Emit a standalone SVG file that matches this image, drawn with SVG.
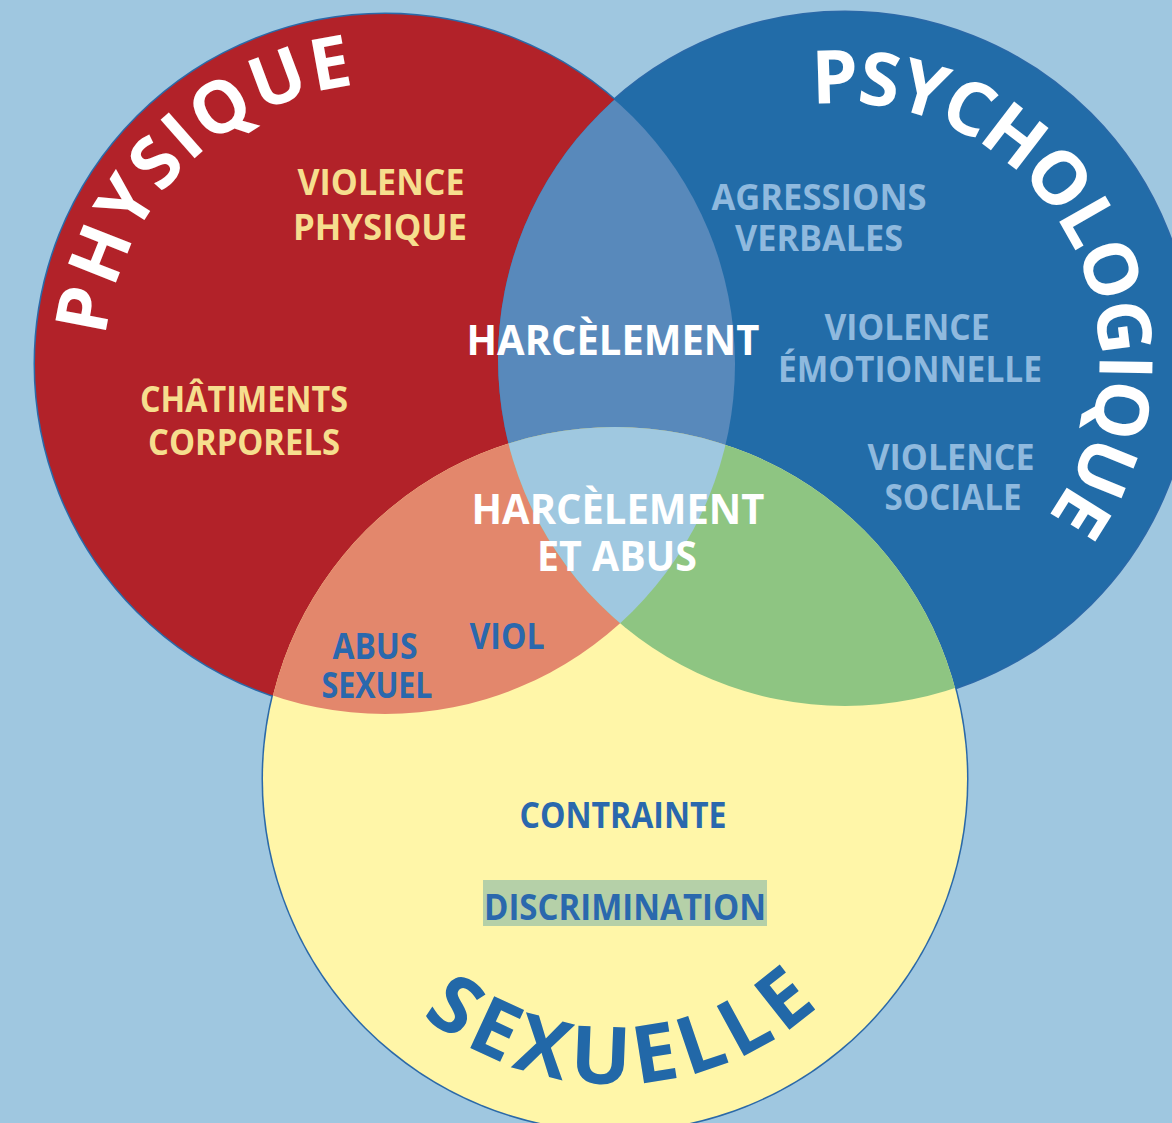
<svg xmlns="http://www.w3.org/2000/svg" width="1172" height="1123" viewBox="0 0 1172 1123">
<style>
.t{font-family:"Open Sans","Liberation Sans",sans-serif;font-weight:700;text-anchor:middle}
.s{font-size:35px}
.b{font-size:42px}
.ylw{fill:#f6de8e}
.lb{fill:#8fb9de}
.db{fill:#2a68ad}
.w{fill:#ffffff}
.arc{font-family:"Open Sans","Liberation Sans",sans-serif;font-weight:700;text-anchor:middle}
</style>
<defs>
<clipPath id="cR"><circle cx="385" cy="364" r="350"/></clipPath>
<clipPath id="cB"><circle cx="845" cy="359" r="347"/></clipPath>
<clipPath id="cY"><circle cx="615" cy="779" r="352"/></clipPath>
<path id="pPhys" d="M185.6,563.4 A282,282 0 0 1 584.4,164.6"/>
<path id="pPsy" d="M716,135.6 A258,258 0 0 1 974,582.4"/>
<path id="pSex" d="M310,779 A305,305 0 0 0 920,779"/>
</defs>
<rect width="1172" height="1123" fill="#9fc7e0"/>
<g id="outlines" fill="none" stroke="#2b69a8" stroke-width="3">
<circle cx="385" cy="364" r="350"/>
<circle cx="845" cy="359" r="347"/>
<circle cx="615" cy="779" r="352"/>
</g>
<g id="physique">
<circle cx="385" cy="364" r="350" fill="#b22229"/>
</g>
<g id="psychologique">
<circle cx="845" cy="359" r="347" fill="#226ca8"/>
</g>
<g id="sexuelle">
<circle cx="615" cy="779" r="352" fill="#fff6a8"/>
</g>
<g id="overlaps">
<g clip-path="url(#cR)"><circle cx="845" cy="359" r="347" fill="#5889bb"/></g>
<g clip-path="url(#cR)"><circle cx="615" cy="779" r="352" fill="#e3876c"/></g>
<g clip-path="url(#cB)"><circle cx="615" cy="779" r="352" fill="#8ec582"/></g>
<g clip-path="url(#cR)"><g clip-path="url(#cB)"><circle cx="615" cy="779" r="352" fill="#9fc8e0"/></g></g>
</g>
<g id="titles">
<text class="arc" font-size="72" letter-spacing="3" fill="#ffffff"><textPath href="#pPhys" startOffset="50%">PHYSIQUE</textPath></text>
<text class="arc" font-size="74" letter-spacing="-2.5" fill="#ffffff"><textPath href="#pPsy" startOffset="50%">PSYCHOLOGIQUE</textPath></text>
<text class="arc" font-size="80" letter-spacing="7" fill="#2268a8"><textPath href="#pSex" startOffset="51.1%">SEXUELLE</textPath></text>
</g>
<g id="labels-physique">
<text class="t s ylw" x="381" y="195" textLength="167" lengthAdjust="spacingAndGlyphs">VIOLENCE</text>
<text class="t s ylw" x="380" y="240" textLength="174" lengthAdjust="spacingAndGlyphs">PHYSIQUE</text>
<text class="t s ylw" x="244" y="412" textLength="208" lengthAdjust="spacingAndGlyphs">CHÂTIMENTS</text>
<text class="t s ylw" x="244" y="455" textLength="192" lengthAdjust="spacingAndGlyphs">CORPORELS</text>
</g>
<g id="labels-psychologique">
<text class="t s lb" x="819" y="210" textLength="215" lengthAdjust="spacingAndGlyphs">AGRESSIONS</text>
<text class="t s lb" x="819" y="251" textLength="168" lengthAdjust="spacingAndGlyphs">VERBALES</text>
<text class="t s lb" x="907" y="340" textLength="165" lengthAdjust="spacingAndGlyphs">VIOLENCE</text>
<text class="t s lb" x="910" y="382" textLength="264" lengthAdjust="spacingAndGlyphs">ÉMOTIONNELLE</text>
<text class="t s lb" x="951" y="470" textLength="167" lengthAdjust="spacingAndGlyphs">VIOLENCE</text>
<text class="t s lb" x="953" y="510" textLength="137" lengthAdjust="spacingAndGlyphs">SOCIALE</text>
</g>
<g id="labels-centre">
<text class="t b w" x="613" y="355" textLength="293" lengthAdjust="spacingAndGlyphs">HARCÈLEMENT</text>
<text class="t b w" x="618" y="524" textLength="293" lengthAdjust="spacingAndGlyphs">HARCÈLEMENT</text>
<text class="t b w" x="617" y="571" textLength="160" lengthAdjust="spacingAndGlyphs">ET ABUS</text>
</g>
<g id="labels-sexuelle">
<text class="t s db" x="375" y="659" textLength="85" lengthAdjust="spacingAndGlyphs">ABUS</text>
<text class="t s db" x="377" y="698" textLength="111" lengthAdjust="spacingAndGlyphs">SEXUEL</text>
<text class="t s db" x="507" y="649" textLength="75" lengthAdjust="spacingAndGlyphs">VIOL</text>
<text class="t s db" x="623" y="828" textLength="207" lengthAdjust="spacingAndGlyphs">CONTRAINTE</text>
<rect x="483" y="880" width="284" height="46" fill="#b5d0a8"/>
<text class="t s db" x="625" y="920" textLength="282" lengthAdjust="spacingAndGlyphs">DISCRIMINATION</text>
</g>
</svg>
